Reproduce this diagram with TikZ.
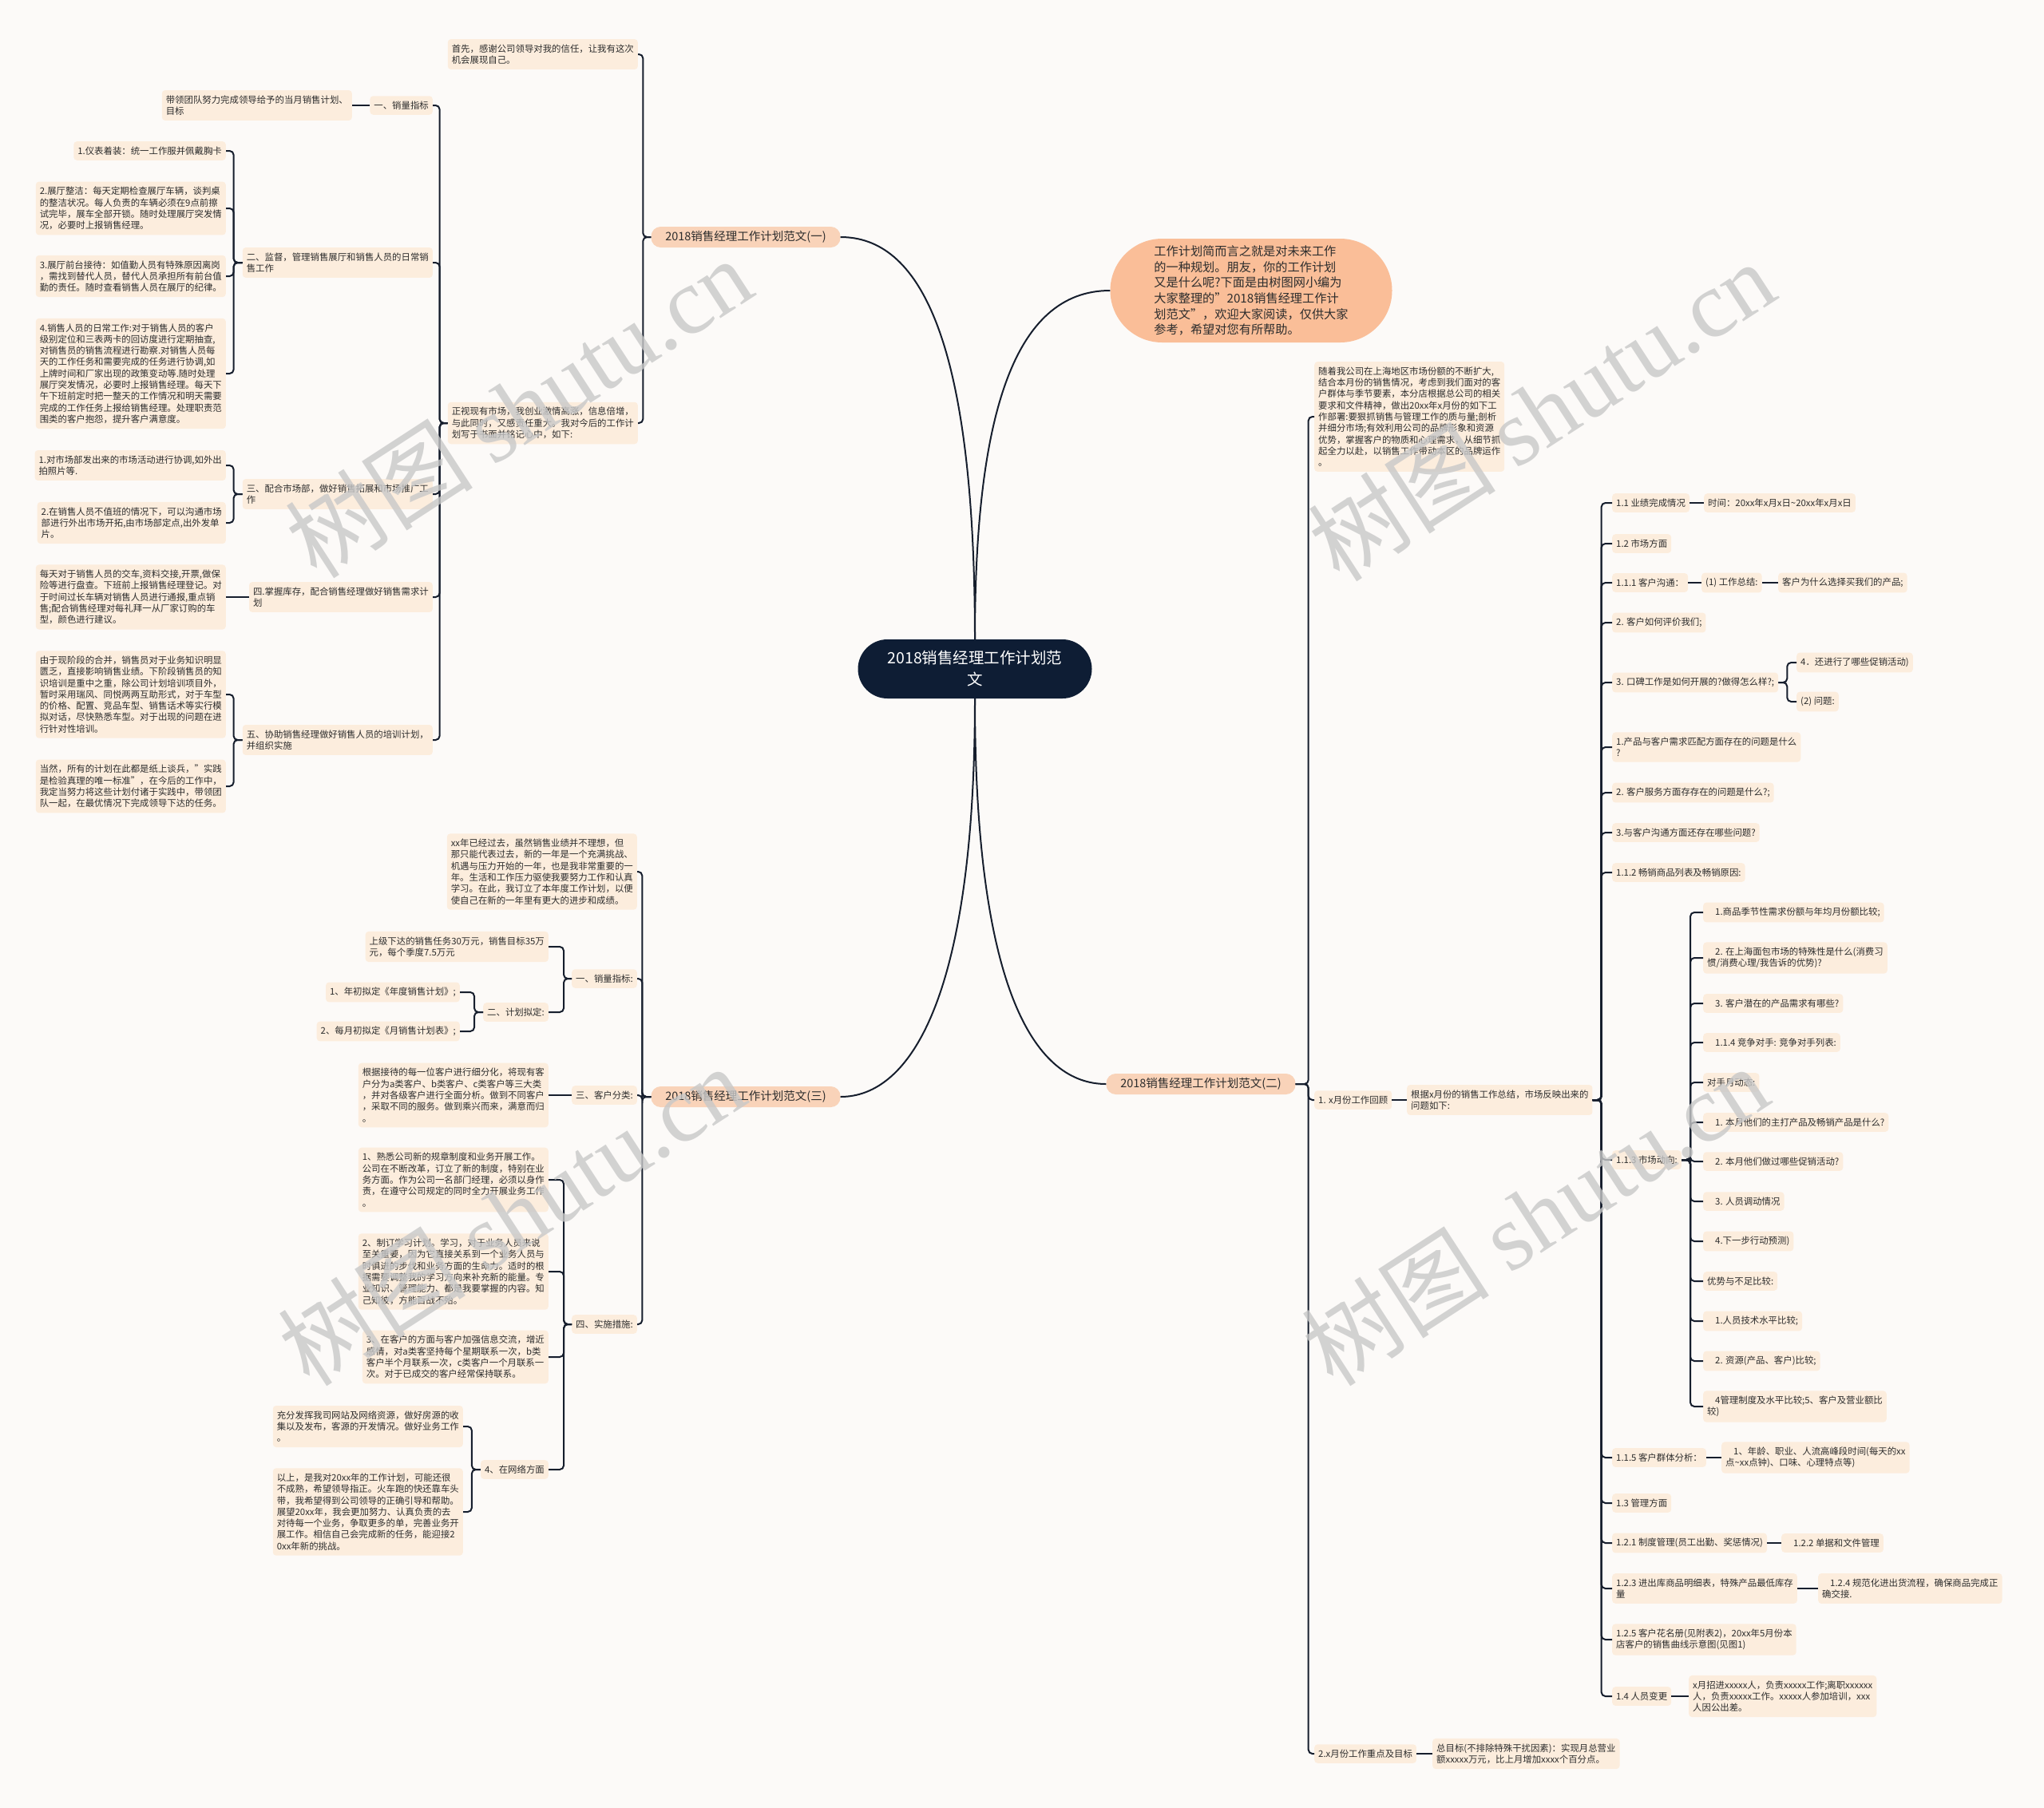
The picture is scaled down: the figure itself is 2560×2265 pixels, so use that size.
\documentclass[tikz,border=0pt]{standalone}
\usepackage{fontspec}
\setmainfont{Noto Sans CJK SC}
\newfontfamily\wmlat{Liberation Serif}
\usetikzlibrary{calc}
\definecolor{bgc}{RGB}{252,250,248}
\definecolor{boxc}{RGB}{252,237,221}
\definecolor{brc}{RGB}{249,211,185}
\definecolor{bubc}{RGB}{250,190,152}
\definecolor{rootc}{RGB}{14,29,52}
\definecolor{linec}{RGB}{22,30,45}
\definecolor{txt}{RGB}{45,45,45}
\definecolor{wmc}{RGB}{200,200,200}
\newcommand\smallfs{\fontsize{11.4pt}{14.3pt}\selectfont}
\newcommand\myind{\hspace*{10pt}}
\tikzset{
  box/.style={fill=boxc, rounded corners=4pt, inner xsep=5pt, inner ysep=6.5pt, align=left, font=\smallfs, text=txt},
  lbox/.style={box, anchor=east},
  rbox/.style={box, anchor=west},
  branch/.style={fill=brc, rounded corners=12pt, minimum width=237pt, minimum height=26pt, inner sep=2pt, font=\fontsize{14.5pt}{17pt}\selectfont, text=txt},
  rootn/.style={fill=rootc, text=white, rounded corners=37pt, minimum width=293pt, minimum height=74pt, align=center, font=\fontsize{19.5pt}{27pt}\selectfont},
  bubble/.style={fill=bubc, rounded corners=65pt, minimum width=353pt, minimum height=130pt, align=left, font=\fontsize{15.2pt}{19.6pt}\selectfont, text=txt},
  conn/.style={draw=linec, line width=2pt, rounded corners=5pt},
  curve/.style={draw=linec, line width=2pt},
  wmark/.style={text=wmc, opacity=0.8, rotate=33, font=\fontsize{118pt}{120pt}\selectfont}
}
\begin{document}
\begin{tikzpicture}[x=1pt,y=-1pt]
\fill[bgc] (0,0) rectangle (2560,2265);
\useasboundingbox (0,0) rectangle (2560,2265);

% centre
\node[rootn] (root) at (1221,838) {2018销售经理工作计划范\\文};
\node[bubble] (intro) at (1567,364) {工作计划简而言之就是对未来工作\\的一种规划。朋友，你的工作计划\\又是什么呢?下面是由树图网小编为\\大家整理的"2018销售经理工作计\\划范文"，欢迎大家阅读，仅供大家\\参考，希望对您有所帮助。};
\node[branch] (b1) at (934,297) {2018销售经理工作计划范文(一)};
\node[branch] (b3) at (934,1374) {2018销售经理工作计划范文(三)};
\node[branch] (b2) at (1504,1358) {2018销售经理工作计划范文(二)};

% branch (一)
\node[lbox] (a1) at (799,68) {首先，感谢公司领导对我的信任，让我有这次\\机会展现自己。};
\node[lbox] (a2) at (799,530) {正视现有市场，我创业激情高涨，信息倍增，\\与此同时，又感责任重大。我对今后的工作计\\划写于书面并铭记心中，如下:};
\node[lbox] (s1) at (542,132) {一、销量指标};
\node[lbox] (s1a) at (441,132) {带领团队努力完成领导给予的当月销售计划、\\目标};
\node[lbox] (s2) at (542,329) {二、监督，管理销售展厅和销售人员的日常销\\售工作};
\node[lbox] (s2a) at (283,189) {1.仪表着装：统一工作服并佩戴胸卡};
\node[lbox] (s2b) at (283,261) {2.展厅整洁：每天定期检查展厅车辆，谈判桌\\的整洁状况。每人负责的车辆必须在9点前擦\\试完毕，展车全部开锁。随时处理展厅突发情\\况，必要时上报销售经理。};
\node[lbox] (s2c) at (283,346) {3.展厅前台接待：如值勤人员有特殊原因离岗\\，需找到替代人员，替代人员承担所有前台值\\勤的责任。随时查看销售人员在展厅的纪律。};
\node[lbox] (s2d) at (283,468) {4.销售人员的日常工作:对于销售人员的客户\\级别定位和三表两卡的回访度进行定期抽查,\\对销售员的销售流程进行勘察.对销售人员每\\天的工作任务和需要完成的任务进行协调,如\\上牌时间和厂家出现的政策变动等.随时处理\\展厅突发情况，必要时上报销售经理。每天下\\午下班前定时把一整天的工作情况和明天需要\\完成的工作任务上报给销售经理。处理职责范\\围类的客户抱怨，提升客户满意度。};
\node[lbox] (s3) at (542,619) {三、配合市场部，做好销售拓展和市场推广工\\作};
\node[lbox] (s3a) at (283,583) {1.对市场部发出来的市场活动进行协调,如外出\\拍照片等.};
\node[lbox] (s3b) at (283,655) {2.在销售人员不值班的情况下，可以沟通市场\\部进行外出市场开拓,由市场部定点,出外发单\\片。};
\node[lbox] (s4) at (542,748) {四.掌握库存，配合销售经理做好销售需求计\\划};
\node[lbox] (s4a) at (283,748) {每天对于销售人员的交车,资料交接,开票,做保\\险等进行盘查。下班前上报销售经理登记。对\\于时间过长车辆对销售人员进行通报,重点销\\售;配合销售经理对每礼拜一从厂家订购的车\\型，颜色进行建议。};
\node[lbox] (s5) at (542,927) {五、协助销售经理做好销售人员的培训计划，\\并组织实施};
\node[lbox] (s5a) at (283,870) {由于现阶段的合并，销售员对于业务知识明显\\匮乏，直接影响销售业绩。下阶段销售员的知\\识培训是重中之重，除公司计划培训项目外，\\暂时采用瑞风、同悦两两互助形式，对于车型\\的价格、配置、竞品车型、销售话术等实行模\\拟对话，尽快熟悉车型。对于出现的问题在进\\行针对性培训。};
\node[lbox] (s5b) at (283,985) {当然，所有的计划在此都是纸上谈兵，"实践\\是检验真理的唯一标准"，在今后的工作中，\\我定当努力将这些计划付诸于实践中，带领团\\队一起，在最优情况下完成领导下达的任务。};

% branch (三)
\node[lbox] (c1) at (798,1092) {xx年已经过去，虽然销售业绩并不理想，但\\那只能代表过去，新的一年是一个充满挑战、\\机遇与压力开始的一年，也是我非常重要的一\\年。生活和工作压力驱使我要努力工作和认真\\学习。在此，我订立了本年度工作计划，以便\\使自己在新的一年里有更大的进步和成绩。};
\node[lbox] (c2) at (798,1226) {一、销量指标:};
\node[lbox] (c2a) at (687,1186) {上级下达的销售任务30万元，销售目标35万\\元，每个季度7.5万元};
\node[lbox] (c22) at (687,1268) {二、计划拟定:};
\node[lbox] (c22a) at (576,1243) {1、年初拟定《年度销售计划》;};
\node[lbox] (c22b) at (576,1292) {2、每月初拟定《月销售计划表》;};
\node[lbox] (c3) at (798,1372) {三、客户分类:};
\node[lbox] (c3a) at (687,1372) {根据接待的每一位客户进行细分化，将现有客\\户分为a类客户、b类客户、c类客户等三大类\\，并对各级客户进行全面分析。做到不同客户\\，采取不同的服务。做到乘兴而来，满意而归\\。};
\node[lbox] (c4) at (798,1659) {四、实施措施:};
\node[lbox] (c4a) at (687,1478) {1、熟悉公司新的规章制度和业务开展工作。\\公司在不断改革，订立了新的制度，特别在业\\务方面。作为公司一名部门经理，必须以身作\\责，在遵守公司规定的同时全力开展业务工作\\。};
\node[lbox] (c4b) at (687,1593) {2、制订学习计划。学习，对于业务人员来说\\至关重要，因为它直接关系到一个业务人员与\\时俱进的步伐和业务方面的生命力。适时的根\\据需要调整我的学习方向来补充新的能量。专\\业知识、管理能力、都是我要掌握的内容。知\\己知彼，方能百战不殆。};
\node[lbox] (c4c) at (687,1700) {3、在客户的方面与客户加强信息交流，增近\\感情，对a类客坚持每个星期联系一次，b类\\客户半个月联系一次，c类客户一个月联系一\\次。对于已成交的客户经常保持联系。};
\node[lbox] (c44) at (687,1841) {4、在网络方面};
\node[lbox] (c44a) at (580,1787) {充分发挥我司网站及网络资源，做好房源的收\\集以及发布，客源的开发情况。做好业务工作\\。};
\node[lbox] (c44b) at (580,1894) {以上，是我对20xx年的工作计划，可能还很\\不成熟，希望领导指正。火车跑的快还靠车头\\带，我希望得到公司领导的正确引导和帮助。\\展望20xx年，我会更加努力、认真负责的去\\对待每一个业务，争取更多的单，完善业务开\\展工作。相信自己会完成新的任务，能迎接2\\0xx年新的挑战。};

% branch (二)
\node[rbox] (d1) at (1646,522) {随着我公司在上海地区市场份额的不断扩大,\\结合本月份的销售情况，考虑到我们面对的客\\户群体与季节要素，本分店根据总公司的相关\\要求和文件精神，做出20xx年x月份的如下工\\作部署:要狠抓销售与管理工作的质与量;剖析\\并细分市场;有效利用公司的品牌形象和资源\\优势，掌握客户的物质和心理需求，从细节抓\\起全力以赴，以销售工作带动本区的品牌运作\\。};
\node[rbox] (d2) at (1646,1378) {1. x月份工作回顾};
\node[rbox] (d21) at (1762,1378) {根据x月份的销售工作总结，市场反映出来的\\问题如下:};
\node[rbox] (e1) at (2019,630) {1.1 业绩完成情况};
\node[rbox] (e1a) at (2134,630) {时间：20xx年x月x日\textasciitilde 20xx年x月x日};
\node[rbox] (e2) at (2019,681) {1.2 市场方面};
\node[rbox] (e3) at (2019,730) {1.1.1 客户沟通：};
\node[rbox] (e3a) at (2131,730) {(1) 工作总结:};
\node[rbox] (e3b) at (2227,730) {客户为什么选择买我们的产品;};
\node[rbox] (e4) at (2019,780) {2. 客户如何评价我们;};
\node[rbox] (e5) at (2019,855) {3. 口碑工作是如何开展的?做得怎么样?;};
\node[rbox] (e5a) at (2250,830) {4．还进行了哪些促销活动)};
\node[rbox] (e5b) at (2250,879) {(2) 问题:};
\node[rbox] (e6) at (2019,936) {1.产品与客户需求匹配方面存在的问题是什么\\?};
\node[rbox] (e7) at (2019,993) {2. 客户服务方面存存在的问题是什么?;};
\node[rbox] (e8) at (2019,1043) {3.与客户沟通方面还存在哪些问题?};
\node[rbox] (e9) at (2019,1093) {1.1.2 畅销商品列表及畅销原因:};
\node[rbox] (e10) at (2019,1453) {1.1.3 市场动向:};
\node[rbox] (f1) at (2133,1143) {\myind 1.商品季节性需求份额与年均月份额比较;};
\node[rbox] (f2) at (2133,1200) {\myind 2. 在上海面包市场的特殊性是什么(消费习\\惯/消费心理/我告诉的优势)?};
\node[rbox] (f3) at (2133,1257) {\myind 3. 客户潜在的产品需求有哪些?};
\node[rbox] (f4) at (2133,1306) {\myind 1.1.4 竞争对手: 竞争对手列表:};
\node[rbox] (f5) at (2133,1356) {对手月动态:};
\node[rbox] (f6) at (2133,1406) {\myind 1. 本月他们的主打产品及畅销产品是什么?};
\node[rbox] (f7) at (2133,1455) {\myind 2. 本月他们做过哪些促销活动?};
\node[rbox] (f8) at (2133,1505) {\myind 3. 人员调动情况};
\node[rbox] (f9) at (2133,1555) {\myind 4.下一步行动预测)};
\node[rbox] (f10) at (2133,1605) {优势与不足比较:};
\node[rbox] (f11) at (2133,1655) {\myind 1.人员技术水平比较;};
\node[rbox] (f12) at (2133,1705) {\myind 2. 资源(产品、客户)比较;};
\node[rbox] (f13) at (2133,1762) {\myind 4管理制度及水平比较;5、客户及营业额比\\较)};
\node[rbox] (e11) at (2019,1826) {1.1.5 客户群体分析：};
\node[rbox] (e11a) at (2156,1826) {\myind 1、年龄、职业、人流高峰段时间(每天的xx\\点\textasciitilde xx点钟)、口味、心理特点等)};
\node[rbox] (e12) at (2019,1883) {1.3 管理方面};
\node[rbox] (e13) at (2019,1933) {1.2.1 制度管理(员工出勤、奖惩情况)};
\node[rbox] (e13a) at (2231,1933) {\myind 1.2.2 单据和文件管理};
\node[rbox] (e14) at (2019,1990) {1.2.3 进出库商品明细表，特殊产品最低库存\\量};
\node[rbox] (e14a) at (2277,1990) {\myind 1.2.4 规范化进出货流程，确保商品完成正\\确交接.};
\node[rbox] (e15) at (2019,2054) {1.2.5 客户花名册(见附表2)，20xx年5月份本\\店客户的销售曲线示意图(见图1)};
\node[rbox] (e16) at (2019,2125) {1.4 人员变更};
\node[rbox] (e16a) at (2115,2125) {x月招进xxxxx人，负责xxxxx工作;离职xxxxxx\\人，负责xxxxx工作。xxxxx人参加培训，xxx\\人因公出差。};
\node[rbox] (d3) at (1646,2197) {2.x月份工作重点及目标};
\node[rbox] (d3a) at (1794,2197) {总目标(不排除特殊干扰因素)：实现月总营业\\额xxxxx万元，比上月增加xxxx个百分点。};

% root curves
\draw[curve] (root.north) .. controls (1221,420) and (1150,297) .. (b1.east);
\draw[curve] (root.north) .. controls (1221,520) and (1270,364) .. (intro.west);
\draw[curve] (root.south) .. controls (1221,1250) and (1140,1374) .. (b3.east);
\draw[curve] (root.south) .. controls (1221,1250) and (1300,1358) .. (b2.west);

% left connectors
\foreach \c in {a1,a2} \draw[conn] (b1.west) -- ++(-10,0) |- (\c.east);
\foreach \c in {s1,s2,s3,s4,s5} \draw[conn] (a2.west) -- ++(-10,0) |- (\c.east);
\draw[conn] (s1.west) -- (s1a.east);
\foreach \c in {s2a,s2b,s2c,s2d} \draw[conn] (s2.west) -- ++(-11,0) |- (\c.east);
\foreach \c in {s3a,s3b} \draw[conn] (s3.west) -- ++(-11,0) |- (\c.east);
\draw[conn] (s4.west) -- (s4a.east);
\foreach \c in {s5a,s5b} \draw[conn] (s5.west) -- ++(-11,0) |- (\c.east);
\foreach \c in {c1,c2,c3,c4} \draw[conn] (b3.west) -- ++(-11,0) |- (\c.east);
\foreach \c in {c2a,c22} \draw[conn] (c2.west) -- ++(-10,0) |- (\c.east);
\foreach \c in {c22a,c22b} \draw[conn] (c22.west) -- ++(-11,0) |- (\c.east);
\draw[conn] (c3.west) -- (c3a.east);
\foreach \c in {c4a,c4b,c4c,c44} \draw[conn] (c4.west) -- ++(-10,0) |- (\c.east);
\foreach \c in {c44a,c44b} \draw[conn] (c44.west) -- ++(-11,0) |- (\c.east);

% right connectors
\foreach \c in {d1,d2,d3} \draw[conn] (b2.east) -- ++(16,0) |- (\c.west);
\draw[conn] (d2.east) -- (d21.west);
\draw[conn] (d3.east) -- (d3a.west);
\foreach \c in {e1,e2,e3,e4,e5,e6,e7,e8,e9,e10,e11,e12,e13,e14,e15,e16} \draw[conn] (d21.east) -- ++(11,0) |- (\c.west);
\draw[conn] (e1.east) -- (e1a.west);
\draw[conn] (e3.east) -- (e3a.west);
\draw[conn] (e3a.east) -- (e3b.west);
\foreach \c in {e5a,e5b} \draw[conn] (e5.east) -- ++(11,0) |- (\c.west);
\foreach \c in {f1,f2,f3,f4,f5,f6,f7,f8,f9,f10,f11,f12,f13} \draw[conn] (e10.east) -- ++(11,0) |- (\c.west);
\draw[conn] (e11.east) -- (e11a.west);
\draw[conn] (e13.east) -- (e13a.west);
\draw[conn] (e14.east) -- (e14a.west);
\draw[conn] (e16.east) -- (e16a.west);

% watermarks
\node[wmark] (w1) at (649,510) {树图 {\wmlat shutu.cn}};
\node[wmark] (w2) at (1930,514) {树图 {\wmlat shutu.cn}};
\node[wmark] (w3) at (640,1522) {树图 {\wmlat shutu.cn}};
\node[wmark] (w4) at (1922,1522) {树图 {\wmlat shutu.cn}};
\end{tikzpicture}
\end{document}
